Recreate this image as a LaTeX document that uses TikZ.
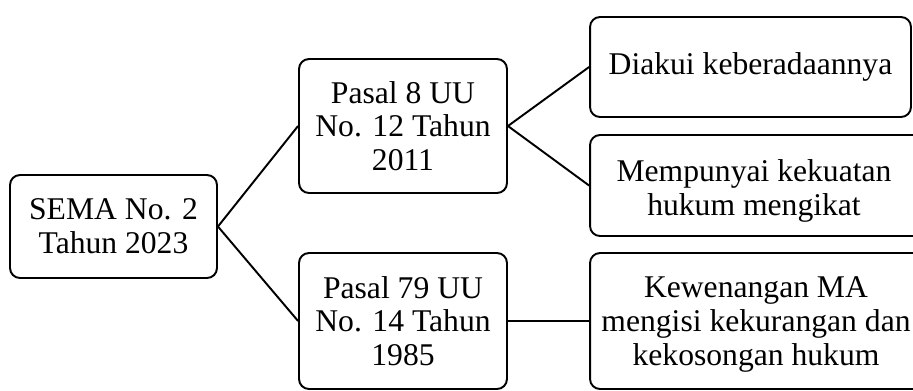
\documentclass[tikz,border=0pt]{standalone}
\usepackage{fontspec}
\setmainfont{Liberation Serif}
\begin{document}
\begin{tikzpicture}[x=0.02cm, y=-0.02cm, line width=1.1pt,
    kotak/.style={draw, rounded corners=0.2cm, align=center, inner sep=0pt,
      font=\fontsize{18}{19.2}\selectfont}]
  \useasboundingbox (0,0) rectangle (913,390);
  \node[kotak, minimum width=4.14cm, minimum height=2.06cm] (sema) at (113.5,226.5) {SEMA No. 2\\Tahun 2023};
  \node[kotak, minimum width=4.16cm, minimum height=2.68cm] (pasal8) at (403,126) {Pasal 8 UU\\No. 12 Tahun\\2011};
  \node[kotak, minimum width=4.16cm, minimum height=2.72cm] (pasal79) at (403,321) {Pasal 79 UU\\No. 14 Tahun\\1985};
  \node[kotak, minimum width=6.42cm, minimum height=2.0cm] (diakui) at (750.5,67) {Diakui keberadaannya};
  \node[kotak, minimum width=6.8cm, minimum height=2.02cm] (mengikat) at (760,185.5) {\hspace*{-0.24cm}\rule{0pt}{19pt}Mempunyai kekuatan\\\hspace*{-0.24cm}hukum mengikat};
  \node[kotak, minimum width=6.8cm, minimum height=2.72cm] (wenang) at (760,321) {\hspace*{-0.16cm}\rule{0pt}{16pt}Kewenangan MA\\\hspace*{-0.16cm}mengisi kekurangan dan\\\hspace*{-0.16cm}kekosongan hukum};
  \draw (sema.east) -- (pasal8.west);
  \draw (sema.east) -- (pasal79.west);
  \draw (pasal8.east) -- (diakui.west);
  \draw (pasal8.east) -- (mengikat.west);
  \draw (pasal79.east) -- (wenang.west);
\end{tikzpicture}
\end{document}
